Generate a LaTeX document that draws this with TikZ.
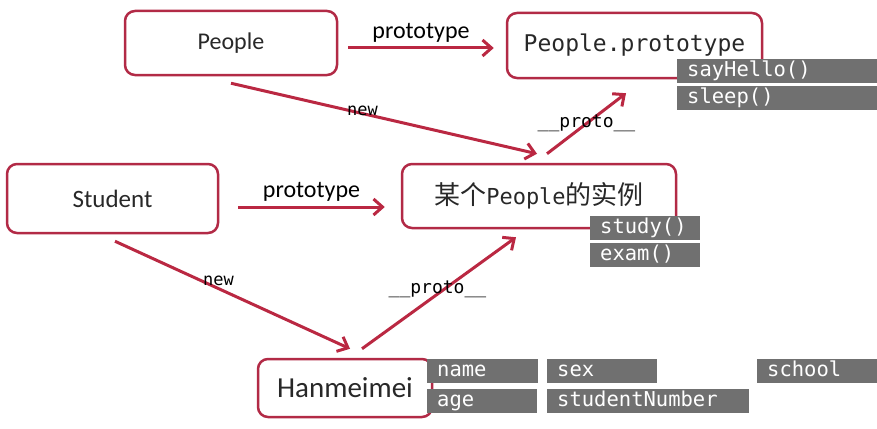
\documentclass[tikz,border=0pt]{standalone}
\usepackage{fontspec}
\setmainfont{Carlito}
\setmonofont{DejaVu Sans Mono}
\newfontfamily\cjk{Noto Sans CJK SC}
\usetikzlibrary{arrows.meta}
\definecolor{boxred}{RGB}{178,42,70}
\definecolor{arrred}{RGB}{186,40,66}
\definecolor{boxgray}{RGB}{112,112,112}
\definecolor{txtdark}{RGB}{40,40,40}
\newcommand{\fsz}[1]{\fontsize{#1}{#1}\selectfont}

\begin{document}
\begin{tikzpicture}[x=1pt,y=-1pt,
  mbox/.style={draw=boxred,line width=2.5pt,rounded corners=10pt,fill=white,text=txtdark,inner sep=0pt},
  gbox/.style={fill=boxgray,text=white,font=\ttfamily\fsz{20.5},anchor=north west,inner xsep=10pt,inner ysep=0pt,
    minimum height=24pt,text height=15pt,text depth=4pt,align=left,text width=#1},
  arr/.style={draw=arrred,line width=3pt,-{Straight Barb[length=9pt,width=16pt]}},
  lbl/.style={text=black,inner sep=1pt}]
\useasboundingbox (0,0) rectangle (877,428);
% objects
\node[mbox,minimum width=212pt,minimum height=64pt,font=\fsz{24}] (people) at (231,43) {People};
\node[mbox,minimum width=255pt,minimum height=65pt,font=\ttfamily\fsz{23}] (proto) at (634.5,45.5) {People.prototype};
\node[mbox,minimum width=211pt,minimum height=69pt,font=\fsz{25}] (student) at (112.5,198.5) {Student};
\node[mbox,minimum width=274pt,minimum height=64pt] (inst) at (539,196) {{\cjk\fsz{26}某个}{\ttfamily\fsz{22}People}{\cjk\fsz{26}的实例}};
\node[mbox,minimum width=174pt,minimum height=58pt,font=\fsz{29}] (han) at (345,388) {Hanmeimei};
% members
\node[gbox=180pt] (sayhello) at (677,59) {sayHello()};
\node[gbox=180pt] (sleep) at (677,86) {sleep()};
\node[gbox=90pt] (study) at (590,216) {study()};
\node[gbox=90pt] (exam) at (590,243) {exam()};
\node[gbox=91pt] (name) at (427,359) {name};
\node[gbox=90pt] (age) at (427,389) {age};
\node[gbox=90pt] (sex) at (547,359) {sex};
\node[gbox=182pt] (stunum) at (547,389) {studentNumber};
\node[gbox=100pt] (school) at (757,359) {school};
% links
\draw[arr] ([xshift=10pt,yshift=-5pt]people.east) -- node[lbl,above=3pt,font=\fsz{24}] {prototype} ([xshift=-12pt,yshift=-2.5pt]proto.west);
\draw[arr] ([yshift=-7pt]people.south) -- node[lbl,pos=.43,yshift=3pt,font=\ttfamily\fsz{17}] {new} ([xshift=-2pt,yshift=9pt]inst.north);
\draw[arr] ([xshift=8pt,yshift=9pt]inst.north) -- node[lbl,midway,font=\ttfamily\fsz{18}] {\_\_proto\_\_} ([xshift=-8.5pt,yshift=-14pt]proto.south);
\draw[arr] ([xshift=19pt,yshift=-8.5pt]student.east) -- node[lbl,above=3pt,font=\fsz{24}] {prototype} ([xshift=-16pt,yshift=-11pt]inst.west);
\draw[arr] ([xshift=2.5pt,yshift=-7pt]student.south) -- node[lbl,pos=.44,yshift=8pt,font=\ttfamily\fsz{17}] {new} ([xshift=5pt,yshift=9pt]han.north);
\draw[arr] ([xshift=17pt,yshift=9pt]han.north) -- node[lbl,pos=.49,yshift=5pt,font=\ttfamily\fsz{18}] {\_\_proto\_\_} ([xshift=-23pt,yshift=-8pt]inst.south);
\end{tikzpicture}
\end{document}
